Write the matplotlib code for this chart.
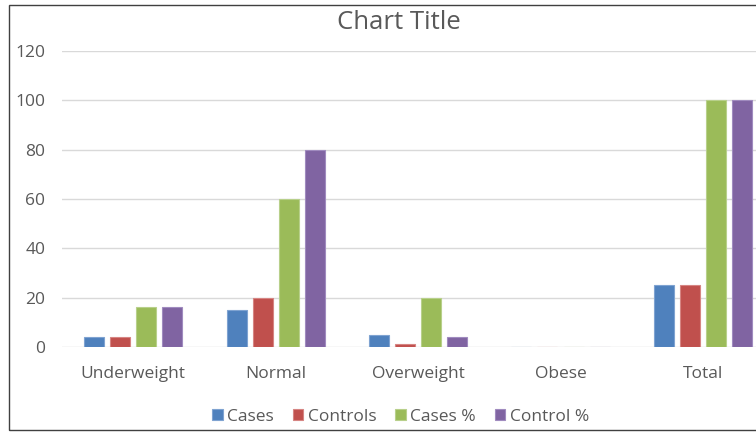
import numpy as np
import matplotlib.pyplot as plt
from matplotlib.patches import Rectangle

categories = ["Underweight", "Normal", "Overweight", "Obese", "Total"]
series_names = ["Cases", "Controls", "Cases %", "Control %"]
cases = [4, 15, 5, 0, 25]
controls = [4, 20, 1, 0, 25]
cases_pct = [16, 60, 20, 0, 100]
control_pct = [16, 80, 4, 0, 100]
yticks = [0, 20, 40, 60, 80, 100, 120]

colors = ["#4F81BD", "#C0504D", "#9BBB59", "#8064A2"]
edges = ["#7FA3D1", "#D68583", "#B8D08B", "#A08BBF"]

plt.rcParams['font.family'] = ['Open Sans', 'DejaVu Sans']

fig = plt.figure(figsize=(7.56, 4.32), dpi=100)
ax = fig.add_axes([0.082, 0.197, 0.942, 0.685])

x = np.arange(len(categories))
pitch = 0.183
width = 0.14
all_series = [cases, controls, cases_pct, control_pct]
for i, vals in enumerate(all_series):
    ax.bar(x + (i - 1.5) * pitch, vals, width, color=colors[i],
           edgecolor=edges[i], linewidth=0.8, label=series_names[i], zorder=3)

ax.set_xlim(-0.5, len(categories) - 0.5)
ax.set_ylim(0, 120)
ax.set_yticks(yticks)
ax.set_xticks(x)
ax.set_xticklabels(categories)
ax.grid(axis='y', color='#D9D9D9', linewidth=1, zorder=0)
for s in ax.spines.values():
    s.set_visible(False)
ax.tick_params(axis='both', length=0, colors='#595959', labelsize=12.5)
ax.tick_params(axis='x', pad=14)
ax.tick_params(axis='y', pad=12)

fig.text(0.527, 0.948, "Chart Title", ha='center', va='center',
         fontsize=18.5, color='#595959')

handles, labels = ax.get_legend_handles_labels()
leg = fig.legend(handles, labels, loc='center', bbox_to_anchor=(0.53, 0.035),
                 ncol=4, frameon=False, fontsize=12.5, handlelength=0.6,
                 handleheight=0.6, handletextpad=0.25, columnspacing=1.1,
                 labelcolor='#595959')

fig.patches.append(Rectangle((9 / 756, 2 / 432), 1.0, 425 / 432,
                             transform=fig.transFigure, fill=False,
                             edgecolor='#404040', linewidth=1))

fig.savefig("out.png", dpi=100)
